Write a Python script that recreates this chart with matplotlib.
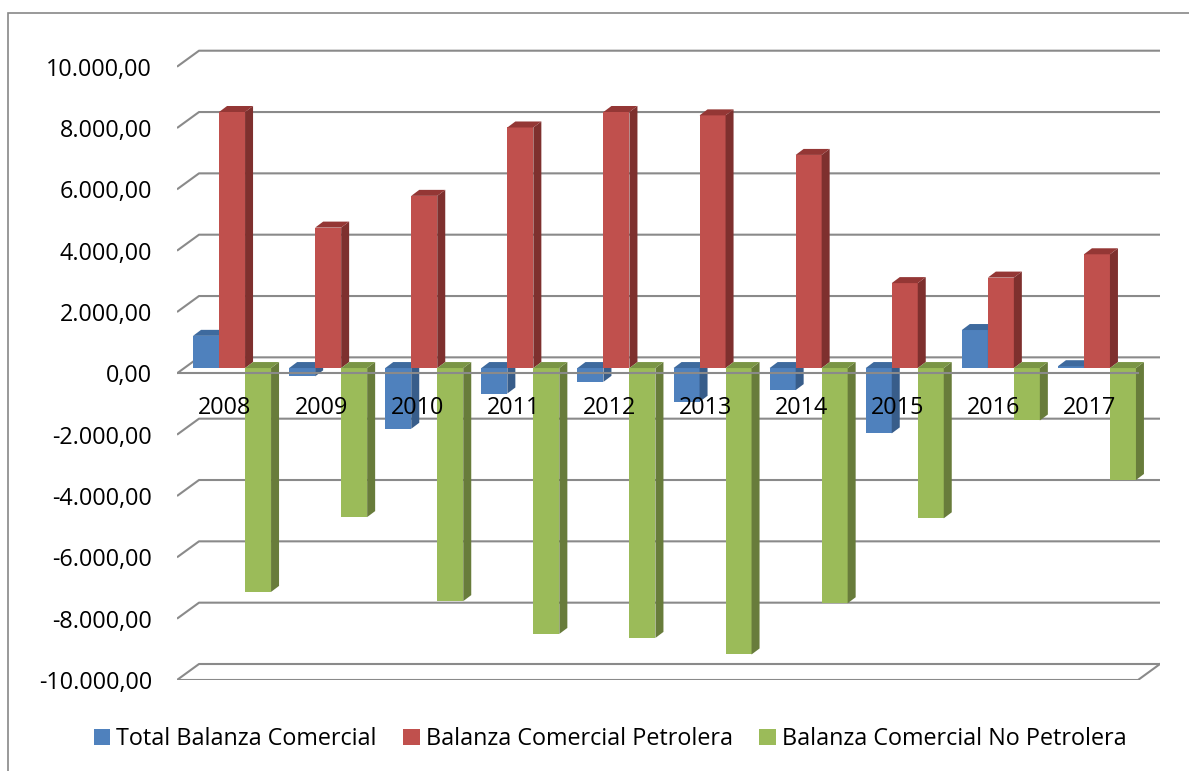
import numpy as np
import matplotlib.pyplot as plt
from matplotlib.patches import Polygon, Rectangle, Patch

plt.rcParams['font.family'] = ['Open Sans', 'DejaVu Sans']

# values
years = ['2008', '2009', '2010', '2011', '2012', '2013', '2014', '2015', '2016', '2017']
total = [1050, -270, -1980, -830, -450, -1100, -720, -2130, 1240, 60]
petrolera = [8350, 4580, 5615, 7845, 8350, 8240, 6950, 2770, 2950, 3710]
no_petrolera = [-7300, -4860, -7600, -8670, -8800, -9340, -7670, -4900, -1710, -3650]
series_names = ['Total Balanza Comercial', 'Balanza Comercial Petrolera',
                'Balanza Comercial No Petrolera']
y_ticks = list(range(-10000, 10001, 2000))

# front / side / top shades for the fake 3D look
colors = [('#4F81BD', '#385D8A', '#3E6A9E'),
          ('#C0504D', '#7E302E', '#943735'),
          ('#9BBB59', '#687C3B', '#7A9545')]
grid_color = '#8A8A8A'
fs = 16.8


def fmt(v):
    s = f"{v:,.2f}"
    return s.replace(',', 'X').replace('.', ',').replace('X', '.')


W, H = 1189, 771
fig = plt.figure(figsize=(W / 100, H / 100), dpi=100)
left_px, right_px, top_px, bottom_px = 177, 1160, 45, 680
ax = fig.add_axes([left_px / W, 1 - bottom_px / H,
                   (right_px - left_px) / W, (bottom_px - top_px) / H])

px_x = 96.1      # pixels per category
px_y = 0.030665  # pixels per unit of value
n = len(years)
ax.set_xlim(0, (right_px - left_px) / px_x)
ax.set_ylim(-10000, -10000 + (bottom_px - top_px) / px_y)

# wall depth, bar plane shift and bar depth (in data units)
wx, wy = 22 / px_x, 16 / px_y
sx, sy = 7 / px_x, 5.3 / px_y
dx, dy = 8 / px_x, 6 / px_y
bw = 26 / px_x

# gridlines on the left wall and the back wall
for v in y_ticks:
    ax.plot([0, wx, n + wx], [v, v + wy, v + wy], color=grid_color, lw=1.5,
            zorder=1, solid_capstyle='butt')
floor = y_ticks[0]
ax.plot([0, n, n + wx], [floor, floor, floor + wy], color=grid_color, lw=1.5, zorder=1)
ax.plot([0, n], [0, 0], color=grid_color, lw=1.5, zorder=20)

# bars
for k, vals in enumerate([total, petrolera, no_petrolera]):
    front, side, top = colors[k]
    xs = np.arange(n) + 0.5 + sx - 1.5 * bw + k * bw
    ax.bar(xs, vals, width=bw, bottom=sy, align='edge', color=front,
           edgecolor='none', zorder=3 + k)
    for x0, v in zip(xs, vals):
        x1 = x0 + bw
        lo, hi = min(sy, sy + v), max(sy, sy + v)
        ax.add_patch(Polygon([(x1, lo), (x1, hi), (x1 + dx, hi + dy), (x1 + dx, lo + dy)],
                             closed=True, facecolor=side, edgecolor='none', zorder=3 + k))
        ax.add_patch(Polygon([(x0, hi), (x0 + dx, hi + dy), (x1 + dx, hi + dy), (x1, hi)],
                             closed=True, facecolor=top, edgecolor='none', zorder=3 + k))

# category labels
for i, year in enumerate(years):
    ax.text(i + 0.5, -1130, year, ha='center', va='center', fontsize=fs,
            color='black', zorder=30)

ax.set_yticks(y_ticks)
ax.set_yticklabels([fmt(v) for v in y_ticks], fontsize=fs)
ax.tick_params(axis='y', length=0, pad=18)
ax.set_xticks([])
for sp in ax.spines.values():
    sp.set_visible(False)
ax.patch.set_visible(False)

handles = [Patch(facecolor=c[0], edgecolor='none') for c in colors]
fig.legend(handles, series_names, loc='center', bbox_to_anchor=(610 / W, 1 - 739 / H),
           ncol=3, frameon=False, fontsize=fs, handlelength=0.7, handleheight=0.7,
           handletextpad=0.25, columnspacing=1.15)

# outer chart border
fig.add_artist(Rectangle((8 / W, -0.1), 1.2, 1 - 13 / H + 0.1, transform=fig.transFigure,
                         fill=False, edgecolor='#888888', lw=1.2))

fig.savefig('out.png', dpi=100)
